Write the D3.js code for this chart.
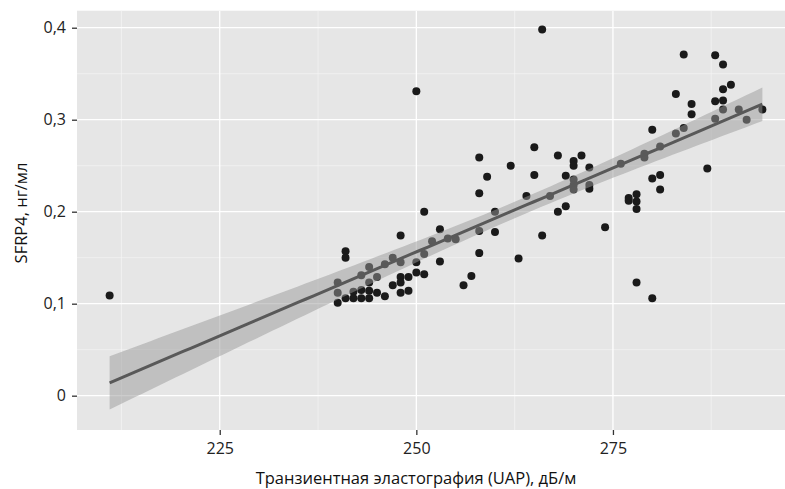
<!DOCTYPE html>
<html>
<head>
<meta charset="utf-8">
<script src="https://cdn.jsdelivr.net/npm/d3@7"></script>
<style>
  html, body { margin: 0; padding: 0; background: #ffffff; }
  svg { display: block; }
  text { font-family: "Open Sans", "Noto Sans", sans-serif; }
</style>
</head>
<body>
<svg id="chart" width="785" height="489"></svg>
<script>
// ---- data ----
const capValues = [
  211, 250, 266, 251,
  248, 241, 241, 253, 254, 255, 252, 258, 258, 251, 247, 248, 250, 253, 244, 246,
  243, 245, 244, 240, 250, 251, 249, 248, 248, 247, 257, 256, 249, 248, 240, 242,
  243, 244, 245, 246, 241, 242, 243, 244, 240,
  265, 258, 262, 268, 271, 270, 270, 272, 259, 265, 269, 270, 270, 270, 272, 272,
  258, 264, 267, 269, 268, 260, 276, 260, 266, 274, 263,
  284, 288, 289, 290, 289, 289, 283, 285, 285, 288, 289, 291, 294, 288, 292, 284,
  283, 280, 281, 279, 279, 287, 280, 281,
  281, 277, 277, 278, 278, 278, 278, 280
];
const sfrp4Values = [
  0.109, 0.331, 0.398, 0.200,
  0.174, 0.157, 0.150, 0.181, 0.171, 0.170, 0.168, 0.179, 0.155, 0.154, 0.150, 0.145, 0.145, 0.146, 0.140, 0.143,
  0.131, 0.129, 0.123, 0.123, 0.134, 0.132, 0.129, 0.129, 0.123, 0.120, 0.130, 0.120, 0.114, 0.112, 0.112, 0.113,
  0.115, 0.114, 0.112, 0.108, 0.106, 0.106, 0.106, 0.106, 0.101,
  0.270, 0.259, 0.250, 0.261, 0.261, 0.255, 0.250, 0.248, 0.238, 0.240, 0.239, 0.235, 0.229, 0.224, 0.229, 0.225,
  0.220, 0.217, 0.217, 0.206, 0.200, 0.200, 0.252, 0.178, 0.174, 0.183, 0.149,
  0.371, 0.370, 0.360, 0.338, 0.333, 0.321, 0.328, 0.317, 0.306, 0.320, 0.311, 0.311, 0.311, 0.301, 0.300, 0.291,
  0.285, 0.289, 0.271, 0.263, 0.259, 0.247, 0.236, 0.240,
  0.224, 0.215, 0.212, 0.219, 0.211, 0.203, 0.123, 0.106
];
const xTicks = [225, 250, 275];
const xMinorTicks = [212.5, 237.5, 262.5, 287.5];
const yTicks = [0, 0.1, 0.2, 0.3, 0.4];
const yMinorTicks = [0.05, 0.15, 0.25, 0.35];
const xTitle = "Транзиентная эластография (UAP), дБ/м";
const yTitle = "SFRP4, нг/мл";

const points = capValues.map((c, i) => ({ x: c, y: sfrp4Values[i] }));

// ---- linear model with 95% confidence band (as geom_smooth(method = "lm")) ----
const n = points.length;
const mx = d3.mean(points, d => d.x);
const my = d3.mean(points, d => d.y);
const sxx = d3.sum(points, d => (d.x - mx) ** 2);
const sxy = d3.sum(points, d => (d.x - mx) * (d.y - my));
const slope = sxy / sxx;
const intercept = my - slope * mx;
const sse = d3.sum(points, d => (d.y - (intercept + slope * d.x)) ** 2);
const sigma = Math.sqrt(sse / (n - 2));
const tCrit = 1.984;
const [xMin, xMax] = d3.extent(points, d => d.x);
const fit = d3.range(0, 81).map(i => {
  const x = xMin + (xMax - xMin) * i / 80;
  const yHat = intercept + slope * x;
  const se = sigma * Math.sqrt(1 / n + (x - mx) ** 2 / sxx);
  return { x, y: yHat, lo: yHat - tCrit * se, hi: yHat + tCrit * se };
});

// ---- layout ----
const svg = d3.select("#chart");
const panel = { left: 77, top: 10.7, right: 795, bottom: 430 };

const x = d3.scaleLinear().domain([206.85, 298.15]).range([panel.left, panel.right]);
const y = d3.scaleLinear().domain([-0.0373, 0.4185]).range([panel.bottom, panel.top]);

svg.append("defs").append("clipPath").attr("id", "clip")
  .append("rect")
  .attr("x", panel.left).attr("y", panel.top)
  .attr("width", panel.right - panel.left).attr("height", panel.bottom - panel.top);

svg.append("rect")
  .attr("x", panel.left).attr("y", panel.top)
  .attr("width", panel.right - panel.left).attr("height", panel.bottom - panel.top)
  .attr("fill", "#e6e6e6");

const grid = svg.append("g").attr("clip-path", "url(#clip)");
grid.selectAll(".vminor").data(xMinorTicks).join("line")
  .attr("x1", d => x(d)).attr("x2", d => x(d))
  .attr("y1", panel.top).attr("y2", panel.bottom)
  .attr("stroke", "#f6f6f6").attr("stroke-width", 0.6);
grid.selectAll(".hminor").data(yMinorTicks).join("line")
  .attr("y1", d => y(d)).attr("y2", d => y(d))
  .attr("x1", panel.left).attr("x2", panel.right)
  .attr("stroke", "#f6f6f6").attr("stroke-width", 0.6);
grid.selectAll(".vmajor").data(xTicks).join("line")
  .attr("x1", d => x(d)).attr("x2", d => x(d))
  .attr("y1", panel.top).attr("y2", panel.bottom)
  .attr("stroke", "#ffffff").attr("stroke-width", 1.3);
grid.selectAll(".hmajor").data(yTicks).join("line")
  .attr("y1", d => y(d)).attr("y2", d => y(d))
  .attr("x1", panel.left).attr("x2", panel.right)
  .attr("stroke", "#ffffff").attr("stroke-width", 1.3);

const plot = svg.append("g").attr("clip-path", "url(#clip)");
plot.selectAll("circle").data(points).join("circle")
  .attr("cx", d => x(d.x)).attr("cy", d => y(d.y))
  .attr("r", 4)
  .attr("fill", "#1a1a1a");

plot.append("path").datum(fit)
  .attr("d", d3.area().x(d => x(d.x)).y0(d => y(d.lo)).y1(d => y(d.hi)))
  .attr("fill", "#999999").attr("fill-opacity", 0.5);

plot.append("path").datum(fit)
  .attr("d", d3.line().x(d => x(d.x)).y(d => y(d.y)))
  .attr("fill", "none").attr("stroke", "#595959").attr("stroke-width", 3);

// ---- axes ----
const fmt = d => d === 0 ? "0" : d3.format(".1f")(d).replace(".", ",");

const xAxis = svg.append("g")
  .attr("transform", `translate(0,${panel.bottom})`)
  .call(d3.axisBottom(x).tickValues(xTicks).tickSize(5).tickPadding(8).tickFormat(d3.format("d")));
xAxis.select(".domain").remove();
xAxis.selectAll(".tick line").attr("stroke", "#333333").attr("stroke-width", 1.3);
xAxis.selectAll(".tick text").attr("fill", "#222222").attr("font-size", 16)
  .attr("font-family", "'Open Sans', 'Noto Sans', sans-serif");

const yAxis = svg.append("g")
  .attr("transform", `translate(${panel.left},0)`)
  .call(d3.axisLeft(y).tickValues(yTicks).tickSize(5).tickPadding(6).tickFormat(fmt));
yAxis.select(".domain").remove();
yAxis.selectAll(".tick line").attr("stroke", "#333333").attr("stroke-width", 1.3);
yAxis.selectAll(".tick text").attr("fill", "#222222").attr("font-size", 16)
  .attr("font-family", "'Open Sans', 'Noto Sans', sans-serif");

svg.append("text")
  .attr("x", 416).attr("y", 484)
  .attr("text-anchor", "middle")
  .attr("font-size", 16.5).attr("fill", "#111111")
  .text(xTitle);

svg.append("text")
  .attr("transform", "translate(27,213) rotate(-90)")
  .attr("text-anchor", "middle")
  .attr("font-size", 16.5).attr("fill", "#111111")
  .text(yTitle);
</script>
</body>
</html>
